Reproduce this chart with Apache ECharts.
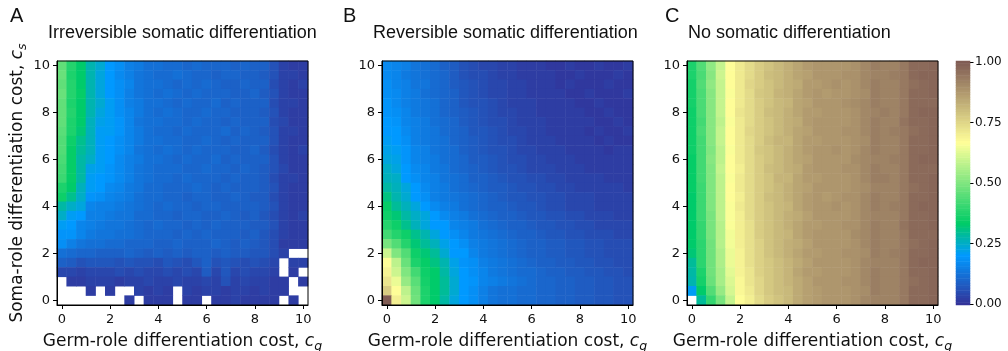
<!DOCTYPE html>
<html>
<head>
<meta charset="utf-8">
<script src="https://cdn.jsdelivr.net/npm/echarts@6/dist/echarts.min.js"></script>
<style>
  html, body { margin: 0; padding: 0; background: #fff; }
  #chart { width: 1008px; height: 351px; }
</style>
</head>
<body>
<div id="chart"></div>
<script>
// Cost grid shared by both axes (germ-role cost c_g on x, soma-role cost c_s on y)
const germCost = [0, 0.4, 0.8, 1.2, 1.6, 2, 2.4, 2.8, 3.2, 3.6, 4, 4.4, 4.8, 5.2, 5.6, 6, 6.4, 6.8, 7.2, 7.6, 8, 8.4, 8.8, 9.2, 9.6, 10];
const somaCost = [0, 0.4, 0.8, 1.2, 1.6, 2, 2.4, 2.8, 3.2, 3.6, 4, 4.4, 4.8, 5.2, 5.6, 6, 6.4, 6.8, 7.2, 7.6, 8, 8.4, 8.8, 9.2, 9.6, 10];
const costTickLabels = ['0', '2', '4', '6', '8', '10'];
const colorbarTickLabels = ['0.00', '0.25', '0.50', '0.75', '1.00'];

const panelTitles = ['Irreversible somatic differentiation', 'Reversible somatic differentiation', 'No somatic differentiation'];
const panelLetters = ['A', 'B', 'C'];

// Values in percent; rows run from c_s = 10 (top) down to c_s = 0 (bottom); null = no data
const irreversibleRows = [
  [46,38,33,27,24,20,18,15,14,12,12,11,11,10,11,10,10,10,9,10,9,9,6,3,2,2],
  [47,37,33,27,23,20,17,15,13,12,11,11,12,11,10,10,9,10,10,9,9,8,6,3,3,2],
  [46,38,33,27,23,20,18,16,13,12,12,11,10,11,10,11,10,9,9,10,9,9,5,3,2,3],
  [47,38,34,27,23,20,18,15,13,12,11,12,11,10,11,10,10,10,9,9,10,8,6,3,2,2],
  [46,37,33,27,24,21,18,15,14,12,12,11,10,11,10,10,11,9,10,9,9,9,5,3,3,2],
  [46,38,33,27,23,21,18,16,14,12,11,12,11,10,10,11,10,10,9,9,9,8,6,3,2,2],
  [46,37,33,26,22,21,19,16,13,12,12,11,11,10,11,10,10,9,10,9,9,9,5,4,2,2],
  [45,37,32,26,21,21,19,16,14,12,11,11,10,11,10,10,10,11,9,10,9,8,6,3,3,2],
  [44,35,30,26,21,20,18,16,14,12,12,11,11,10,10,11,10,9,10,9,9,9,6,3,2,2],
  [44,34,29,26,21,20,18,16,13,12,11,12,11,10,11,10,10,10,9,9,10,8,5,3,2,3],
  [43,34,28,25,21,20,17,15,14,12,12,11,10,11,10,10,11,9,10,9,9,9,6,3,2,2],
  [42,34,28,22,21,19,17,15,13,12,11,11,11,10,10,11,10,10,9,10,9,8,6,4,2,2],
  [41,34,28,21,20,19,17,15,13,12,11,11,10,11,10,10,10,9,10,9,9,8,5,3,3,2],
  [37,33,26,21,20,17,16,14,13,11,11,10,10,10,11,10,9,10,9,9,9,8,6,3,2,2],
  [35,30,25,19,18,16,15,14,12,11,11,10,10,9,10,10,9,9,10,9,8,8,5,3,2,2],
  [28,25,23,16,15,15,14,13,12,11,10,11,10,10,9,10,10,9,9,9,9,8,6,3,2,2],
  [25,21,20,15,15,14,13,13,11,11,10,10,9,10,10,9,9,10,9,8,9,7,5,3,2,3],
  [21,20,16,15,14,13,13,12,11,10,11,10,10,9,10,9,10,9,9,9,8,8,6,3,2,2],
  [19,19,16,14,13,13,12,12,11,10,10,10,9,10,9,10,9,9,9,8,9,7,5,3,2,2],
  [18,15,13,12,12,11,11,10,10,10,9,9,10,9,9,9,10,9,8,9,8,7,5,2,2,2],
  [12,11,10,10,9,9,9,10,9,8,9,8,9,8,9,9,8,9,8,8,7,7,5,3,null,null],
  [9,8,6,7,7,7,6,7,6,6,5,7,6,5,7,9,6,7,6,5,6,5,4,null,3,3],
  [4,4,3,4,4,4,5,4,5,4,4,5,4,5,4,8,4,7,4,5,4,4,3,null,2,null],
  [null,2,2,3,3,3,2,3,3,4,3,3,4,3,3,4,3,6,3,4,3,3,2,2,null,2],
  [null,null,null,2,null,2,null,null,3,2,3,2,null,3,2,3,3,2,3,3,2,3,2,2,null,null],
  [null,null,null,null,null,null,null,2,null,2,2,2,null,2,2,null,2,2,3,2,2,2,2,null,2,null]
];

const reversibleRows = [
  [17,16,15,13,12,11,9,8,6,5,4,4,3,3,2,2,2,1,1,2,1,1,2,1,1,2],
  [17,16,14,13,12,11,10,8,6,5,5,4,3,3,2,2,2,2,1,1,2,1,1,1,2,1],
  [18,16,15,13,13,11,10,8,7,6,5,4,4,3,3,2,2,2,1,2,1,1,1,2,1,1],
  [18,17,15,14,12,11,10,9,7,6,5,4,4,3,3,2,2,2,2,1,1,2,1,1,1,2],
  [19,17,15,14,13,12,10,9,7,6,6,5,4,3,3,3,2,2,2,2,1,1,2,1,1,1],
  [19,18,16,14,13,12,10,9,8,7,6,5,4,4,3,3,2,2,2,2,2,1,1,2,1,1],
  [20,19,16,15,14,12,11,10,8,7,6,5,5,4,3,3,3,2,2,2,2,2,1,1,2,1],
  [20,20,17,15,14,13,11,10,9,7,7,6,5,4,4,3,3,2,2,2,2,1,2,1,1,2],
  [21,20,18,15,14,13,12,10,9,8,7,6,5,5,4,3,3,3,2,2,2,2,1,2,1,1],
  [22,21,19,16,15,13,12,11,9,8,7,6,6,5,4,4,3,3,3,2,2,2,2,1,2,2],
  [23,22,19,16,15,14,12,11,10,8,8,7,6,5,5,4,4,3,3,3,2,2,2,2,2,2],
  [25,23,20,17,16,14,13,11,10,9,8,7,6,6,5,4,4,4,3,3,3,2,2,2,2,2],
  [26,25,20,18,16,15,13,12,11,9,9,8,7,6,6,5,5,4,4,3,3,3,3,2,2,2],
  [28,26,23,20,17,15,14,12,11,10,9,8,8,7,6,6,5,5,4,4,3,3,3,3,3,2],
  [31,27,24,20,18,15,14,13,12,11,10,9,8,7,7,6,6,5,5,4,4,4,3,3,3,3],
  [34,29,26,23,20,17,15,14,12,11,10,9,9,8,7,7,6,5,5,4,4,4,3,3,3,3],
  [35,32,28,25,23,20,17,15,14,12,11,10,9,9,8,7,7,6,6,5,5,4,4,4,3,3],
  [38,35,30,26,23,20,20,16,15,14,12,11,10,9,9,8,7,7,6,6,5,5,4,4,4,4],
  [42,38,35,30,27,23,20,18,16,14,13,12,11,10,9,9,8,7,7,6,6,5,5,5,4,4],
  [49,44,38,32,29,26,22,20,18,15,14,13,12,11,10,9,9,8,8,7,7,6,6,5,5,5],
  [60,50,44,35,32,29,24,20,20,16,14,13,12,11,10,9,9,8,8,7,7,6,6,5,5,5],
  [67,58,47,37,34,31,27,22,19,18,15,14,13,12,11,10,9,9,8,8,7,7,6,6,5,5],
  [69,60,50,42,35,33,28,23,20,18,16,14,13,12,11,11,10,9,9,8,8,7,7,6,6,5],
  [72,64,53,45,36,33,29,24,20,19,16,15,14,13,12,11,10,10,9,9,8,8,7,7,6,6],
  [77,67,58,47,37,33,29,24,20,18,15,13,12,12,11,11,10,10,9,9,8,8,7,7,6,6],
  [100,70,60,48,37,33,28,23,20,18,15,13,12,12,11,11,10,10,9,9,8,8,7,7,6,6]
];

const noDiffRows = [
  [37,44,52,59,67,71,74,77,79,81,83,85,87,88,88,88,88,89,91,93,92,92,94,97,97,98],
  [37,43,51,60,67,71,74,77,80,81,83,85,86,88,88,88,89,89,91,92,92,93,94,97,98,98],
  [36,44,52,59,67,71,75,77,79,81,83,84,87,87,88,89,88,89,91,93,92,92,94,96,97,98],
  [36,43,51,59,66,71,74,78,79,82,83,85,87,88,87,88,88,89,90,93,92,92,94,97,97,98],
  [36,43,51,59,67,71,74,77,79,81,82,85,86,88,88,88,89,90,91,93,92,92,94,97,97,97],
  [35,43,51,59,67,72,74,77,80,81,83,85,87,87,88,88,88,89,91,92,93,92,94,97,98,98],
  [35,42,51,58,66,71,74,77,79,81,83,84,87,88,88,88,88,89,91,93,92,92,95,97,97,98],
  [35,43,51,59,67,71,75,77,79,81,83,85,86,88,88,88,89,89,91,93,92,93,94,96,97,98],
  [35,42,51,59,67,71,74,77,80,82,82,85,87,87,88,88,88,89,90,93,92,92,94,97,97,98],
  [35,42,50,58,66,71,74,78,79,81,83,85,87,88,88,89,88,89,91,93,92,92,94,97,97,98],
  [34,42,51,58,67,71,74,77,79,81,83,85,86,88,88,88,88,90,91,92,92,93,94,97,98,98],
  [34,42,50,59,67,70,74,77,80,81,83,84,87,88,88,88,89,89,91,93,92,92,94,97,97,97],
  [34,42,50,58,66,71,74,77,79,82,82,85,87,87,88,88,88,89,91,93,93,92,94,97,97,98],
  [34,41,50,58,67,71,74,77,79,81,83,85,86,88,88,88,88,89,90,92,92,92,94,96,97,98],
  [33,41,50,58,67,70,74,77,80,81,83,85,87,88,87,88,89,89,91,93,92,92,94,97,97,98],
  [33,41,50,58,66,71,74,77,79,81,82,85,87,88,88,89,88,89,91,93,92,93,94,97,98,98],
  [33,41,49,58,66,70,74,77,79,81,83,84,86,88,88,88,88,89,91,92,92,92,94,97,97,98],
  [33,40,49,57,66,70,73,77,79,81,83,85,87,87,88,88,89,89,91,93,92,92,95,97,97,98],
  [33,40,49,57,65,70,73,77,79,81,82,85,87,88,88,88,88,90,91,93,92,92,94,97,97,97],
  [33,39,48,57,65,70,73,76,79,81,83,84,86,88,88,88,88,89,91,93,92,92,94,96,97,98],
  [32,39,48,56,64,69,73,76,79,81,83,85,87,87,88,88,89,89,90,93,92,93,94,97,97,98],
  [29,39,48,56,64,69,73,76,78,80,82,84,86,88,88,88,88,89,91,92,92,92,94,97,98,98],
  [28,37,48,55,63,69,72,76,78,80,82,85,87,87,88,88,88,89,91,93,92,92,94,97,97,98],
  [27,36,47,55,62,68,72,75,78,80,82,84,86,88,88,88,89,89,91,93,92,92,94,96,97,98],
  [21,33,44,53,61,68,71,75,78,80,81,84,86,87,88,88,88,89,90,93,92,92,94,97,97,98],
  [null,29,40,49,59,67,70,74,77,79,81,84,86,87,88,88,88,89,91,92,92,92,94,97,97,98]
];

// Terrain-style colour ramp sampled at evenly spaced steps over [0, 1]
const terrainStops = ['#333399', '#2255bb', '#1177dd', '#0099ff', '#00b3b3', '#00cc66', '#33d670', '#66e07a',
  '#99eb85', '#ccf58f', '#ffff99', '#e6de8b', '#ccbe7d', '#b39d70', '#997c62', '#805c54'];

function toCells(rows) {
  const cells = [];
  rows.forEach((row, r) => {
    const yi = rows.length - 1 - r;
    row.forEach((v, xi) => cells.push([xi, yi, v == null ? '-' : v / 100]));
  });
  return cells;
}

// colour bar levels
const colorbarLevels = [];
for (let i = 0; i <= 100; i++) colorbarLevels.push((i / 100).toFixed(2));

const tickFont = 'DejaVu Sans';
const titleFont = 'Liberation Sans';
const ink = '#111';
const showCostTick = (idx, value) => costTickLabels.indexOf(String(Number(value))) >= 0;

const plotLefts = [57, 382, 687];
const plotTop = 61, plotW = 251, plotH = 244;

const axisNameStyle = () => ({
  fontFamily: tickFont, fontSize: 17, color: ink, lineHeight: 22,
  rich: {
    i: { fontFamily: tickFont, fontSize: 17, fontStyle: 'italic', color: ink, lineHeight: 22 },
    sub: { fontFamily: tickFont, fontSize: 12.5, fontStyle: 'italic', color: ink, lineHeight: 12, verticalAlign: 'bottom' }
  }
});

const grids = plotLefts.map(left => ({
  left: left, top: plotTop, width: plotW, height: plotH,
  show: true, borderColor: '#000', borderWidth: 1, backgroundColor: 'transparent',
  z: 5, outerBoundsMode: 'none', containLabel: false
}));
grids.push({ left: 956, top: plotTop, width: 14, height: plotH, show: false, z: 5, outerBoundsMode: 'none', containLabel: false });

const xAxes = plotLefts.map((_, i) => ({
  type: 'category', gridIndex: i, data: germCost.map(String), z: 6,
  axisLine: { show: true, lineStyle: { color: '#000', width: 1 } },
  axisTick: { show: true, alignWithLabel: true, interval: showCostTick, length: 4, lineStyle: { color: '#000' } },
  axisLabel: { interval: showCostTick, formatter: v => String(Number(v)), margin: 8,
    fontFamily: tickFont, fontSize: 13, color: ink },
  splitLine: { show: false }, splitArea: { show: false },
  name: 'Germ-role differentiation cost, {i|c}{sub|g}', nameLocation: 'middle', nameGap: 23,
  nameTextStyle: axisNameStyle()
}));
xAxes.push({ type: 'category', gridIndex: 3, data: ['level'], show: false });

const yAxes = plotLefts.map((_, i) => {
  const ax = {
    type: 'category', gridIndex: i, data: somaCost.map(String), z: 6,
    axisLine: { show: true, lineStyle: { color: '#000', width: 1 } },
    axisTick: { show: true, alignWithLabel: true, interval: showCostTick, length: 4, lineStyle: { color: '#000' } },
    axisLabel: { interval: showCostTick, formatter: v => String(Number(v)), margin: 7,
      fontFamily: tickFont, fontSize: 13, color: ink },
    splitLine: { show: false }, splitArea: { show: false }
  };
  if (i === 0) {
    ax.name = 'Soma-role differentiation cost, {i|c}{sub|s}';
    ax.nameLocation = 'middle';
    ax.nameRotate = 90;
    ax.nameGap = 28;
    ax.nameTextStyle = axisNameStyle();
  }
  return ax;
});
const showBarTick = (idx, value) => colorbarTickLabels.indexOf(value) >= 0;
yAxes.push({
  type: 'category', gridIndex: 3, data: colorbarLevels, position: 'right',
  axisLine: { show: false },
  axisTick: { show: true, alignWithLabel: true, interval: showBarTick, length: 3.5, lineStyle: { color: '#000' } },
  axisLabel: { interval: showBarTick, margin: 5, fontFamily: tickFont, fontSize: 12, color: ink },
  splitLine: { show: false }
});

const panelData = [irreversibleRows, reversibleRows, noDiffRows];
const series = panelData.map((rows, i) => ({
  type: 'heatmap', xAxisIndex: i, yAxisIndex: i, data: toCells(rows),
  itemStyle: { borderWidth: 0 }, emphasis: { disabled: true }, progressive: 0
}));
series.push({
  type: 'heatmap', xAxisIndex: 3, yAxisIndex: 3,
  data: colorbarLevels.map((lv, i) => [0, i, Number(lv)]),
  emphasis: { disabled: true }, progressive: 0
});

const titles = [];
const letterLefts = [10, 343, 665];
const titleLefts = [48, 373, 688];
panelLetters.forEach((t, i) => titles.push({
  text: t, left: letterLefts[i], top: 6, padding: 0,
  textStyle: { fontFamily: titleFont, fontSize: 20, fontWeight: 'normal', color: ink }
}));
panelTitles.forEach((t, i) => titles.push({
  text: t, left: titleLefts[i], top: 24, padding: 0,
  textStyle: { fontFamily: titleFont, fontSize: 18, fontWeight: 'normal', color: ink }
}));

const chart = echarts.init(document.getElementById('chart'), null, { renderer: 'canvas' });
chart.setOption({
  backgroundColor: '#fff',
  animation: false,
  title: titles,
  grid: grids,
  xAxis: xAxes,
  yAxis: yAxes,
  visualMap: {
    show: false, type: 'continuous', min: 0, max: 1,
    seriesIndex: [0, 1, 2, 3],
    inRange: { color: terrainStops }
  },
  series: series
});
</script>
</body>
</html>
